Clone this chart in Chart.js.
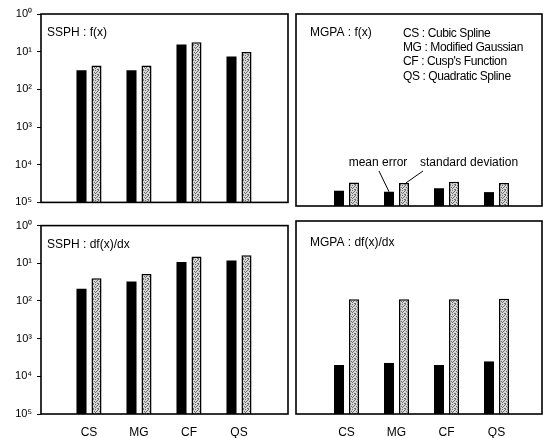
<!DOCTYPE html>
<html><head><meta charset="utf-8">
<script src="https://cdn.jsdelivr.net/npm/chart.js@4"></script>
<style>
html,body{margin:0;padding:0;background:#fff;}
#wrap{position:relative;width:543px;height:438px;overflow:hidden;background:#fff;}
canvas{position:absolute;}
</style></head><body>
<div id="wrap">
<canvas id="c1" width="290" height="214" style="left:0;top:0"></canvas>
<canvas id="c2" width="251" height="214" style="left:292px;top:0"></canvas>
<canvas id="c3" width="290" height="224" style="left:0;top:214px"></canvas>
<canvas id="c4" width="251" height="224" style="left:292px;top:214px"></canvas>
</div>
<script>
// ---- data ----
const categories = ['CS', 'MG', 'CF', 'QS'];
const categoryNames = ['Cubic Spline', 'Modified Gaussian', "Cusp's Function", 'Quadratic Spline'];
const seriesNames = ['mean error', 'standard deviation'];
const tickValues = [1, 1e-1, 1e-2, 1e-3, 1e-4, 1e-5];
const tickLabels = ['10⁰', '10¹', '10²', '10³', '10⁴', '10⁵'];
const panelTitles = ['SSPH : f(x)', 'MGPA : f(x)', 'SSPH : df(x)/dx', 'MGPA : df(x)/dx'];

const ssphF_mean = [0.032, 0.032, 0.156, 0.075];
const ssphF_std  = [0.043, 0.043, 0.179, 0.098];
const mgpaF_mean = [2.5e-5, 2.35e-5, 2.9e-5, 2.3e-5];
const mgpaF_std  = [4.1e-5, 4.0e-5, 4.3e-5, 4.0e-5];
const ssphD_mean = [0.021, 0.033, 0.108, 0.119];
const ssphD_std  = [0.040, 0.052, 0.151, 0.164];
const mgpaD_mean = [1.86e-4, 2.1e-4, 1.86e-4, 2.3e-4];
const mgpaD_std  = [0.0094, 0.0094, 0.0094, 0.0097];

// ---- styling ----
const FONT = '"Liberation Sans", Arial, sans-serif';
Chart.defaults.font.family = FONT;
Chart.defaults.color = '#000';

function makePattern() {
  // stipple texture tile
  const mask = [
    '10010',
    '00100',
    '01001',
    '10000',
    '00110'
  ];
  const n = mask.length;
  const c = document.createElement('canvas'); c.width = n; c.height = n;
  const g = c.getContext('2d');
  g.fillStyle = '#d6d6d6'; g.fillRect(0, 0, n, n);
  g.fillStyle = '#6e6e6e';
  mask.forEach((row, y) => [...row].forEach((b, x) => { if (b === '1') g.fillRect(x, y, 1, 1); }));
  return g.createPattern(c, 'repeat');
}
const greyPattern = makePattern();

function labelFor(v) {
  const i = tickValues.findIndex(t => Math.abs(Math.log10(t) - Math.log10(v)) < 1e-6);
  return i >= 0 ? tickLabels[i] : '';
}

const framePlugin = {
  id: 'frame',
  afterDraw(chart, args, o) {
    const { ctx, chartArea: a } = chart;
    ctx.save();
    ctx.strokeStyle = '#000'; ctx.lineWidth = 1.6;
    ctx.strokeRect(a.left, a.top, a.right - a.left, a.bottom - a.top);
    ctx.fillStyle = '#000';
    ctx.font = '12px ' + FONT;
    ctx.textBaseline = 'middle';
    ctx.textAlign = 'left';
    ctx.fillText(o.title, a.left + o.tx, a.top + o.ty);
    if (o.extra) o.extra(chart, ctx, a);
    ctx.restore();
  }
};

function makeChart(id, mean, std, cfg) {
  const toXY = arr => arr.map((v, i) => ({ x: i, y: v }));
  const xScale = {
    type: 'linear', min: cfg.xmin, max: cfg.xmax, offset: false, display: cfg.showX,
    afterBuildTicks: s => { s.ticks = categories.map((c, i) => ({ value: i })); },
    ticks: { callback: v => categories[v], padding: 11, font: { size: 12 }, color: '#000', autoSkip: false, maxRotation: 0 },
    grid: { display: false, drawTicks: false }, border: { display: false }
  };
  if (cfg.showX) xScale.afterFit = s => { s.height = 24; };
  const yScale = {
    type: 'logarithmic', min: 1e-5, max: 1, display: cfg.showY,
    afterBuildTicks: s => { s.ticks = tickValues.map(v => ({ value: v })); },
    ticks: { callback: v => labelFor(v), padding: 5, font: { size: 11 }, color: '#000', autoSkip: false },
    grid: { drawOnChartArea: false, drawTicks: true, tickLength: 4, color: '#000', lineWidth: 1 },
    border: { display: false }
  };
  if (cfg.showY) yScale.afterFit = s => { s.width = 41; };
  return new Chart(document.getElementById(id), {
    type: 'bar',
    data: {
      datasets: [
        { label: seriesNames[0], data: toXY(mean), backgroundColor: '#000', borderColor: '#000', borderWidth: 0 },
        { label: seriesNames[1], data: toXY(std), backgroundColor: greyPattern, borderColor: '#000', borderWidth: 1.5 }
      ]
    },
    options: {
      responsive: false, animation: false,
      categoryPercentage: 0.6, barPercentage: 0.67,
      layout: { padding: cfg.padding },
      scales: { x: xScale, y: yScale },
      plugins: {
        legend: { display: false }, tooltip: { enabled: false },
        frame: { title: cfg.title, tx: cfg.tx, ty: cfg.ty, extra: cfg.extra }
      }
    },
    plugins: [framePlugin]
  });
}

makeChart('c1', ssphF_mean, ssphF_std, {
  xmin: -0.96, xmax: 3.98, showX: false, showY: true,
  padding: { left: 0, top: 14, right: 2, bottom: 8 },
  title: panelTitles[0], tx: 6, ty: 19
});

makeChart('c2', mgpaF_mean, mgpaF_std, {
  xmin: -1.01, xmax: 3.91, showX: false, showY: false,
  padding: { left: 4, top: 14, right: 1, bottom: 8 },
  title: panelTitles[1], tx: 14, ty: 19,
  extra: (chart, ctx, a) => {
    // category legend
    ctx.letterSpacing = '-0.4px';
    categories.forEach((c, i) => {
      ctx.fillText(c + ' : ' + categoryNames[i], a.left + 107, a.top + 19.5 + i * 14.3);
    });
    ctx.letterSpacing = '0px';
    // series annotations pointing to MG bars
    const b0 = chart.getDatasetMeta(0).data[1];
    const b1 = chart.getDatasetMeta(1).data[1];
    const ty = a.top + 149;
    ctx.textAlign = 'center';
    ctx.fillText(seriesNames[0], b0.x - 11, ty);
    ctx.textAlign = 'left';
    ctx.fillText(seriesNames[1], b1.x + 16, ty);
    ctx.lineWidth = 1;
    ctx.beginPath();
    ctx.moveTo(b0.x - 10, ty + 8); ctx.lineTo(b0.x, b0.y);
    ctx.moveTo(b1.x + 19, ty + 8); ctx.lineTo(b1.x + 2, b1.y);
    ctx.stroke();
  }
});

makeChart('c3', ssphD_mean, ssphD_std, {
  xmin: -0.96, xmax: 3.98, showX: true, showY: true,
  padding: { left: 0, top: 7, right: 2, bottom: 0 },
  title: panelTitles[2], tx: 6, ty: 19
});

makeChart('c4', mgpaD_mean, mgpaD_std, {
  xmin: -1.01, xmax: 3.91, showX: true, showY: false,
  padding: { left: 4, top: 7, right: 1, bottom: 0 },
  title: panelTitles[3], tx: 14, ty: 22
});
</script>
</body></html>
